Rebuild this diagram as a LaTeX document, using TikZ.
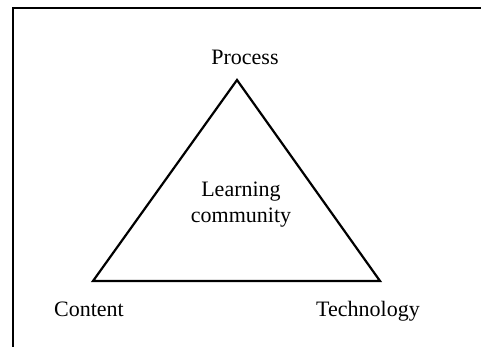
\documentclass[tikz,border=0pt]{standalone}
\usepackage{fontspec}
\setmainfont{Liberation Serif}
\begin{document}
\begin{tikzpicture}[x=0.5pt,y=-0.5pt,
  lbl/.style={inner sep=0pt,anchor=base,font=\fontsize{11}{13}\selectfont},
  frame/.style={line width=1.2pt},
  tri/.style={line width=1.1pt,line join=miter}]
\useasboundingbox (0,0) rectangle (481,347);
\fill[white] (0,0) rectangle (481,347);
\coordinate (fa) at (481,8);
\coordinate (fb) at (13,8);
\coordinate (fc) at (13,347);
\draw[frame] (fa) -- (fb) -- (fc);
\coordinate (top) at (237,80);
\coordinate (bl) at (93,281);
\coordinate (br) at (380,281);
\draw[tri] (top) -- (bl) -- (br) -- cycle;
\node[lbl] (process) at (245,65) {Process};
\node[lbl] (content) at (89,316) {Content};
\node[lbl] (technology) at (368,316) {Technology};
\node[lbl] (learning) at (241,197) {Learning};
\node[lbl] (community) at (241,222) {community};
\end{tikzpicture}
\end{document}
